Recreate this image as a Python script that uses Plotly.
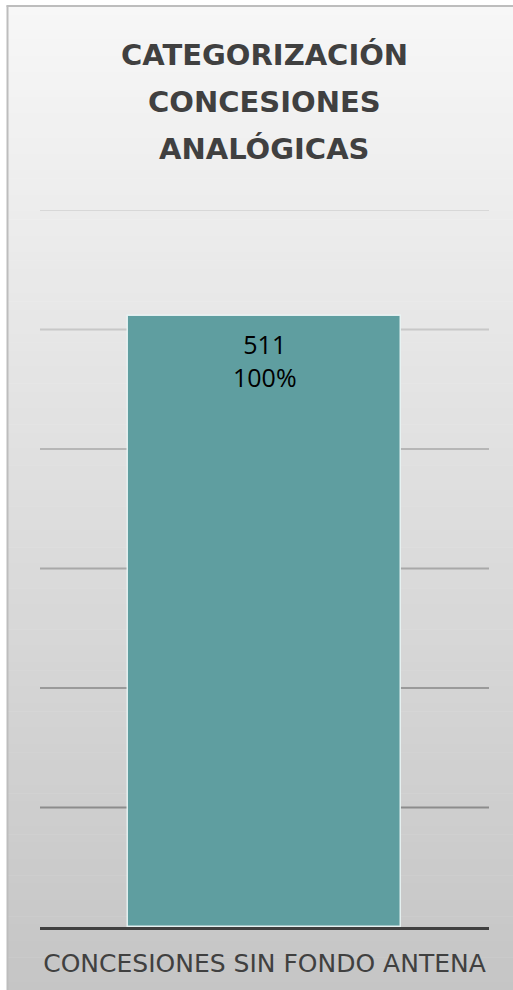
import plotly.graph_objects as go

# ---- data ----
categories = ["CONCESIONES SIN FONDO ANTENA"]
values = [511]
percents = ["100%"]
title_lines = ["CATEGORIZACIÓN", "CONCESIONES", "ANALÓGICAS"]
y_ticks = [100, 200, 300, 400, 500, 600]

W, H = 513, 990
L, R, T, B = 40, 24, 210, 63
PW, PH = W - L - R, H - T - B


def px(x):
    return (x - L) / PW


def py(y):
    return (H - B - y) / PH


shapes = []
# background gradient (styling)
n = 120
top_c, bot_c = 247, 197
y0, y1 = 6, H
for i in range(n):
    a = y0 + (y1 - y0) * i / n
    b = y0 + (y1 - y0) * (i + 1) / n
    t = (i + 0.5) / n
    c = round(top_c + (bot_c - top_c) * t)
    shapes.append(dict(type="rect", xref="paper", yref="paper",
                       x0=px(7), x1=px(W + 2), y0=py(b + 0.5), y1=py(a),
                       fillcolor=f"rgb({c},{c},{c})", line=dict(width=0),
                       layer="below"))
# frame border
shapes.append(dict(type="line", xref="paper", yref="paper",
                   x0=px(7.5), x1=px(7.5), y0=py(H + 2), y1=py(5.5),
                   line=dict(color="#bdbdbd", width=2), layer="below"))
shapes.append(dict(type="line", xref="paper", yref="paper",
                   x0=px(6.5), x1=px(W + 2), y0=py(6), y1=py(6),
                   line=dict(color="#bdbdbd", width=2), layer="below"))

# gridlines (colors darken downward as in the reference)
grid_colors = ["#8c8c8c", "#9a9a9a", "#a8a8a8", "#b6b6b6", "#c8c8c8", "#d8d8d8"]
for v, gc in zip(y_ticks, grid_colors):
    shapes.append(dict(type="line", xref="paper", yref="y",
                       x0=0, x1=1, y0=v, y1=v,
                       line=dict(color=gc, width=2), layer="below"))

fig = go.Figure()
fig.add_trace(go.Bar(
    x=categories, y=values, width=0.606,
    marker=dict(color="#5F9EA0", line=dict(color="rgba(235,245,245,0.9)", width=1.5)),
    hoverinfo="skip",
))

annotations = []
title_y = [55, 102, 149]
for line, yy in zip(title_lines, title_y):
    annotations.append(dict(text=f"<b>{line}</b>", xref="paper", yref="paper",
                            x=px(264), y=py(yy), xanchor="center", yanchor="middle",
                            showarrow=False,
                            font=dict(family="DejaVu Sans", size=29, color="#404040")))
for c, v, p in zip(categories, values, percents):
    annotations.append(dict(text=f"{v}<br>{p}", x=c, y=v, xref="x", yref="y",
                            xanchor="center", yanchor="top", yshift=-9,
                            showarrow=False, align="center",
                            font=dict(family="Open Sans", size=25, color="#000000")))

fig.update_layout(
    width=W, height=H,
    margin=dict(l=L, r=R, t=T, b=B, pad=0),
    paper_bgcolor="white", plot_bgcolor="rgba(0,0,0,0)",
    showlegend=False,
    shapes=shapes, annotations=annotations,
    bargap=0,
    xaxis=dict(showline=True, linecolor="#404040", linewidth=3, ticks="",
               showgrid=False,
               tickfont=dict(family="DejaVu Sans", size=25, color="#404040"),
               ticklabelstandoff=12, fixedrange=True),
    yaxis=dict(range=[0, 600], showgrid=False, zeroline=False, showticklabels=False,
               tickvals=y_ticks, fixedrange=True),
)

fig.write_html(
    "out.html",
    config={"displayModeBar": False},
    post_script="document.body.style.margin='0';document.body.style.overflow='hidden';",
)
